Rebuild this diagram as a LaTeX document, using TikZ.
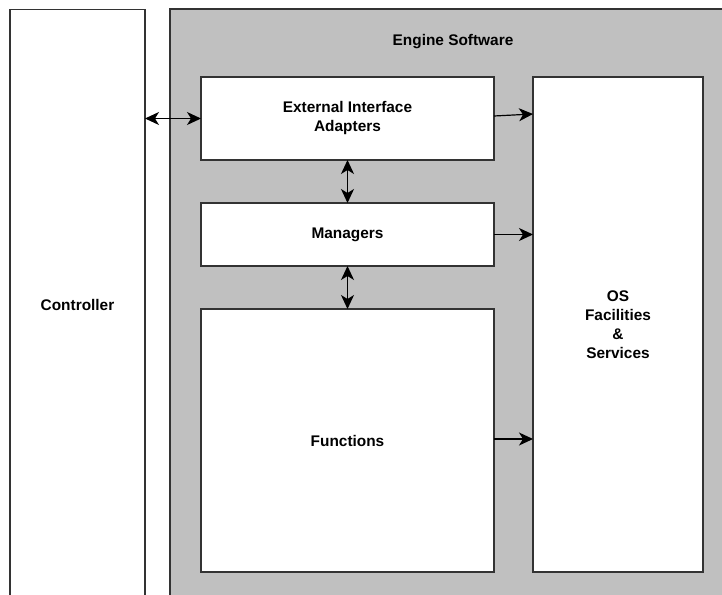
\documentclass[tikz,border=0pt]{standalone}
\usepackage{fontspec}
\setmainfont{Liberation Sans}
\usetikzlibrary{arrows.meta}
\definecolor{panelgray}{HTML}{C0C0C0}
\definecolor{edgegray}{HTML}{333333}
\begin{document}
\begin{tikzpicture}[x=1pt,y=-1pt,
  block/.style={draw=edgegray, line width=1.3pt, fill=white, inner sep=0pt, outer sep=0pt,
    align=center, font=\bfseries\fontsize{15.4}{19}\selectfont},
  panel/.style={draw=edgegray, line width=1.3pt, fill=panelgray, inner sep=0pt, outer sep=0pt},
  tag/.style={font=\bfseries\fontsize{15.4}{19}\selectfont, inner sep=0pt},
  link/.style={draw=black, line width=1.2pt, -{Stealth[length=14pt,width=13pt,inset=4pt]}},
  duplex/.style={draw=black, line width=1.2pt, {Stealth[length=14pt,width=13pt,inset=4pt]}-{Stealth[length=14pt,width=13pt,inset=4pt]}}
]
\useasboundingbox (0,0) rectangle (722,594);
\fill[white] (0,0) rectangle (722,594);

% outer columns, running past the page edges
\node[block, minimum width=135pt, minimum height=590pt] (ctrl) at (77.5,304.5) {Controller};
\node[panel, minimum width=580pt, minimum height=600pt, anchor=north west] (engine) at (170,9) {};
\node[tag] (enginelabel) at (453,42) {Engine Software};

% inner blocks
\node[block, minimum width=293pt, minimum height=83pt] (eia) at (347.5,118.5) {External Interface\\Adapters};
\node[block, minimum width=293pt, minimum height=63pt] (mgr) at (347.5,234.5) {Managers};
\node[block, minimum width=293pt, minimum height=263pt] (fun) at (347.5,440.5) {Functions};
\node[block, minimum width=170pt, minimum height=495pt] (os) at (618,324.5) {OS\\Facilities\\\&\\Services};

% connectors
\draw[duplex] (ctrl.east |- eia.west) -- (eia.west);
\draw[duplex] (eia.south) -- (mgr.north);
\draw[duplex] (mgr.south) -- (fun.north);
\draw[link] ([yshift=2.5pt]eia.east) -- ([yshift=4.5pt]eia.east -| os.west);
\draw[link] (mgr.east) -- (mgr.east -| os.west);
\draw[link] ([yshift=1.5pt]fun.east) -- ([yshift=1.5pt]fun.east -| os.west);
\end{tikzpicture}
\end{document}
